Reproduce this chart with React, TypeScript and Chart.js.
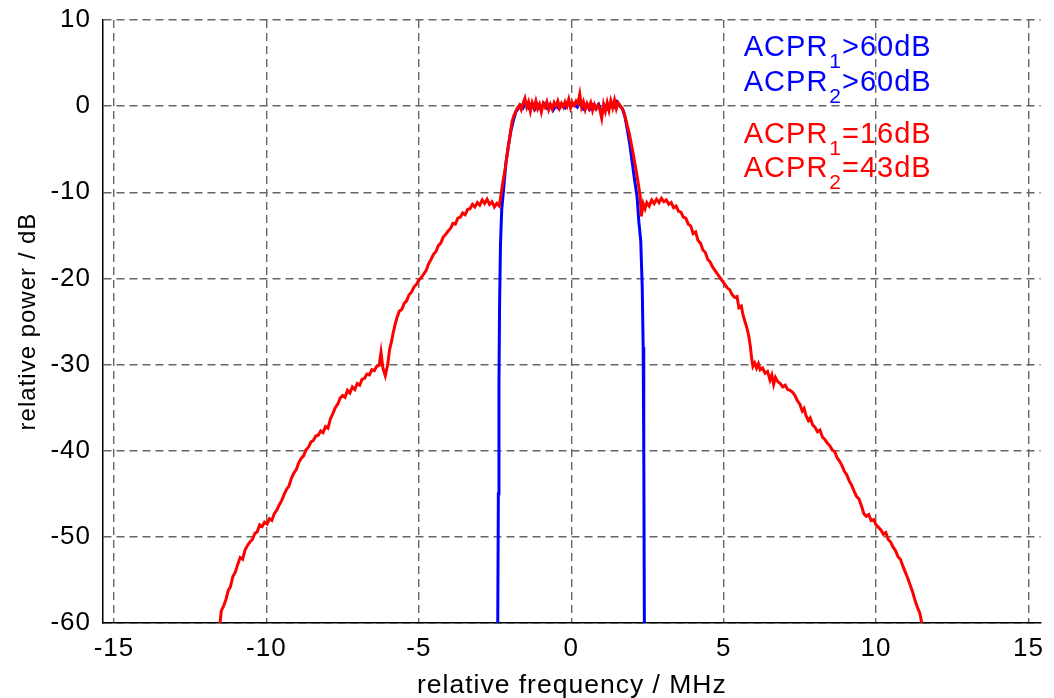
import { useEffect, useRef } from "react";
import { Chart, registerables } from "chart.js";

Chart.register(...registerables);

// ---------------- data ----------------
const redFreq = [
  -11.52, -11.48, -11.4, -11.32, -11.25, -11.18, -11.1, -11.02, -10.94, -10.86,
  -10.78, -10.7, -10.62, -10.54, -10.46, -10.38, -10.3, -10.22, -10.14, -10.06,
  -9.98, -9.9, -9.82, -9.74, -9.66, -9.58, -9.5, -9.42, -9.34, -9.26,
  -9.18, -9.1, -9.02, -8.94, -8.86, -8.78, -8.7, -8.62, -8.54, -8.46,
  -8.38, -8.3, -8.22, -8.14, -8.06, -7.98, -7.9, -7.82, -7.74, -7.66,
  -7.58, -7.5, -7.42, -7.34, -7.26, -7.18, -7.1, -7.02, -6.94, -6.86,
  -6.78, -6.7, -6.62, -6.54, -6.46, -6.38, -6.3, -6.24, -6.18, -6.1,
  -6.02, -5.96, -5.9, -5.84, -5.78, -5.72, -5.64, -5.56, -5.48, -5.4,
  -5.32, -5.24, -5.16, -5.08, -5.0, -4.92, -4.84, -4.76, -4.68, -4.6,
  -4.52, -4.44, -4.36, -4.28, -4.2, -4.12, -4.04, -3.96, -3.88, -3.8,
  -3.72, -3.64, -3.56, -3.48, -3.4, -3.32, -3.24, -3.16, -3.08, -3.0,
  -2.92, -2.84, -2.76, -2.68, -2.6, -2.52, -2.44, -2.36, -2.3, -2.24,
  -2.18, -2.12, -2.06, -2.0, -1.94, -1.88, -1.82, -1.76, -1.7, -1.64,
  -1.58, -1.52, -1.46, -1.4, -1.34, -1.28, -1.22, -1.16, -1.1, -1.04,
  -0.98, -0.92, -0.86, -0.8, -0.74, -0.68, -0.62, -0.56, -0.5, -0.44,
  -0.38, -0.32, -0.26, -0.2, -0.14, -0.08, -0.02, 0.04, 0.1, 0.16,
  0.22, 0.28, 0.34, 0.4, 0.46, 0.52, 0.58, 0.64, 0.7, 0.76,
  0.82, 0.88, 0.94, 1.0, 1.06, 1.12, 1.18, 1.24, 1.3, 1.36,
  1.42, 1.48, 1.54, 1.6, 1.66, 1.72, 1.78, 1.84, 1.9, 1.96,
  2.02, 2.08, 2.14, 2.2, 2.26, 2.3, 2.36, 2.42, 2.48, 2.56,
  2.64, 2.72, 2.8, 2.88, 2.96, 3.04, 3.12, 3.2, 3.28, 3.36,
  3.44, 3.52, 3.6, 3.68, 3.76, 3.84, 3.92, 4.0, 4.08, 4.16,
  4.24, 4.32, 4.4, 4.48, 4.56, 4.64, 4.72, 4.8, 4.88, 4.96,
  5.04, 5.12, 5.2, 5.28, 5.36, 5.44, 5.5, 5.58, 5.64, 5.7,
  5.76, 5.82, 5.88, 5.92, 5.96, 6.02, 6.08, 6.14, 6.2, 6.28,
  6.36, 6.44, 6.52, 6.58, 6.64, 6.7, 6.78, 6.86, 6.94, 7.02,
  7.1, 7.18, 7.26, 7.34, 7.42, 7.5, 7.58, 7.64, 7.7, 7.78,
  7.84, 7.92, 8.0, 8.08, 8.16, 8.24, 8.32, 8.4, 8.48, 8.56,
  8.64, 8.72, 8.8, 8.88, 8.96, 9.04, 9.12, 9.2, 9.28, 9.36,
  9.44, 9.52, 9.6, 9.68, 9.76, 9.84, 9.92, 10.0, 10.08, 10.16,
  10.24, 10.32, 10.4, 10.48, 10.56, 10.64, 10.72, 10.8, 10.88, 10.96,
  11.04, 11.12, 11.2, 11.28, 11.36, 11.44, 11.5,
];

const redPower = [
  -60, -58.6, -58.0, -57.2, -56.2, -55.8, -54.6, -54.1, -53.2, -52.4,
  -52.6, -51.5, -51.0, -50.6, -50.3, -49.6, -49.4, -48.6, -48.8, -48.3,
  -48.5, -47.9, -48.1, -47.3, -46.9, -46.3, -45.8, -45.1, -44.5, -44.1,
  -43.2, -42.6, -42.2, -41.4, -40.9, -40.6, -39.9, -39.6, -39.0, -38.8,
  -38.3, -38.2, -37.7, -37.9, -37.2, -37.4, -36.3, -35.7, -35.0, -34.6,
  -33.9, -33.6, -33.8, -33.0, -33.3, -32.6, -32.9, -32.2, -32.4, -31.7,
  -31.6, -31.1, -31.2, -30.6, -30.7, -30.2, -30.1, -28.6, -30.4, -31.3,
  -30.0, -28.3, -27.4, -26.3, -25.4, -24.6, -23.8, -23.6, -22.9, -22.6,
  -21.9, -21.6, -21.0, -20.7, -20.2, -19.9, -19.5, -19.1, -18.3, -17.8,
  -17.2, -16.9, -16.2, -15.9, -15.2, -14.9, -14.5, -14.2, -13.6, -13.7,
  -13.0, -12.9, -12.4, -12.6, -12.0, -11.9, -11.4, -11.7, -11.2, -11.5,
  -10.9, -11.3, -10.8, -11.4, -11.1, -11.7, -11.3, -11.6, -10.2, -8.8,
  -7.6, -6.1, -4.6, -3.2, -1.8, -1.1, -0.6, -0.2, 0.1, -0.4,
  0.3, 0.9, -0.1, 0.5, -0.6, 0.4, -0.2, 0.6, -0.3, 0.2,
  -0.7, 0.3, -0.1, 0.5, -0.4, 0.2, -0.3, 0.4, 0.0, 0.6,
  -0.2, 0.3, -0.1, 0.5, 0.0, 0.8, -0.2, 0.4, 0.1, 0.6,
  0.3, 1.4, -0.1, 0.5, -0.4, 0.3, -0.2, 0.4, -0.5, 0.2,
  -0.3, 0.1, -0.4, -1.4, 0.2, -0.6, 0.4, -0.5, 0.6, -0.2,
  0.7, -0.3, 0.4, 0.1, -0.2, -0.6, -1.4, -2.3, -3.1, -4.2,
  -5.3, -6.5, -7.7, -9.0, -10.4, -12.8, -11.3, -11.9, -11.2, -11.6,
  -10.9, -11.3, -10.8, -11.2, -10.7, -11.1, -10.9, -11.4, -11.2, -11.8,
  -11.6, -12.2, -12.3, -12.9, -13.0, -13.7, -13.9, -14.8, -14.6, -15.6,
  -15.9, -16.7, -17.0, -17.8, -18.1, -18.7, -19.1, -19.5, -19.9, -20.3,
  -20.7, -21.1, -21.3, -21.9, -22.2, -22.1, -23.4, -23.2, -24.3, -25.0,
  -25.7, -26.6, -28.0, -29.3, -30.2, -29.8, -30.4, -29.9, -30.6, -30.4,
  -31.0, -30.8, -31.8, -31.2, -32.3, -31.5, -32.0, -32.2, -32.6, -32.4,
  -32.9, -33.0, -33.2, -33.6, -34.2, -34.6, -35.4, -35.1, -35.9, -36.5,
  -36.2, -37.0, -37.3, -37.8, -37.6, -38.4, -38.7, -39.1, -39.4, -39.9,
  -40.1, -40.8, -41.2, -41.7, -42.4, -42.8, -43.5, -44.0, -44.7, -45.3,
  -45.6, -46.4, -47.3, -47.6, -47.4, -48.1, -48.0, -48.6, -48.9, -49.2,
  -49.7, -49.5, -50.3, -50.6, -51.2, -51.6, -52.3, -52.6, -53.4, -54.1,
  -54.8, -55.6, -56.4, -57.4, -58.2, -58.9, -60,
];

const blueFreq = [
  -2.41, -2.39, -2.37, -2.35, -2.32, -2.28, -2.22, -2.14, -2.06, -1.98,
  -1.9, -1.82, -1.74, -1.66, -1.58, -1.5, -1.4, -1.3, -1.2, -1.1,
  -1.0, -0.9, -0.8, -0.7, -0.6, -0.5, -0.4, -0.3, -0.2, -0.1,
  0.0, 0.1, 0.2, 0.3, 0.4, 0.5, 0.6, 0.7, 0.8, 0.9,
  1.0, 1.1, 1.2, 1.3, 1.4, 1.5, 1.6, 1.68, 1.76, 1.84,
  1.92, 2.0, 2.08, 2.16, 2.22, 2.28, 2.33, 2.36, 2.38, 2.4,
];

const bluePower = [
  -60, -45, -32, -23, -16, -12, -9.7, -6.5, -4.6, -2.9,
  -1.7, -0.7, -0.3, 0.1, -0.2, 0.4, -0.2, 0.3, -0.4, 0.2,
  -0.3, 0.3, -0.2, 0.2, -0.5, 0.1, -0.3, 0.2, -0.2, 0.3,
  0.0, 0.2, -0.1, 0.6, -0.3, 0.2, -0.4, 0.1, -0.3, 0.2,
  -0.8, 0.1, -0.3, 0.4, -0.1, 0.5, 0.0, -0.3, -1.2, -2.7,
  -4.4, -6.5, -8.6, -10.5, -13.5, -15.6, -21, -28, -40, -60,
];

const xTickValues = [-15, -10, -5, 0, 5, 10, 15];
const yTickValues = [-60, -50, -40, -30, -20, -10, 0, 10];

const noteMain = ["ACPR", "ACPR", "ACPR", "ACPR"];
const noteSub = ["1", "2", "1", "2"];
const noteRest = [">60dB", ">60dB", "=16dB", "=43dB"];
const noteColor = ["#0000ff", "#0000ff", "#ff0000", "#ff0000"];

const xAxisTitle = "relative frequency / MHz";
const yAxisTitle = "relative power / dB";

// ---------------- styling ----------------
const FONT = '"Liberation Sans", Arial, Helvetica, sans-serif';
const NOTE_X = 5.66;
const NOTE_BASELINE_Y = [5.8, 1.75, -4.3, -8.25];

const spacingPlugin = {
  id: "letterSpacing",
  beforeUpdate(chart: any) {
    chart.ctx.letterSpacing = "1px";
  },
  beforeDraw(chart: any) {
    chart.ctx.letterSpacing = "1px";
  },
};

const notesPlugin = {
  id: "acprNotes",
  afterDraw(chart: any) {
    const { ctx, scales } = chart;
    const xs = scales.x;
    const ys = scales.y;
    ctx.save();
    ctx.textBaseline = "alphabetic";
    ctx.textAlign = "left";
    for (let i = 0; i < noteMain.length; i++) {
      let px = xs.getPixelForValue(NOTE_X);
      const py = ys.getPixelForValue(NOTE_BASELINE_Y[i]);
      ctx.fillStyle = noteColor[i];
      ctx.font = `29px ${FONT}`;
      ctx.fillText(noteMain[i], px, py);
      px += ctx.measureText(noteMain[i]).width + 1;
      ctx.font = `21px ${FONT}`;
      ctx.fillText(noteSub[i], px, py + 12);
      px += ctx.measureText(noteSub[i]).width;
      ctx.font = `29px ${FONT}`;
      ctx.fillText(noteRest[i], px, py);
    }
    ctx.restore();
  },
};

export default function App() {
  const canvasRef = useRef<HTMLCanvasElement | null>(null);

  useEffect(() => {
    const canvas = canvasRef.current;
    if (!canvas) return;

    const redData = redFreq.map((f, i) => ({ x: f, y: redPower[i] }));
    const blueData = blueFreq.map((f, i) => ({ x: f, y: bluePower[i] }));

    const gridCommon = {
      color: "#666666",
      lineWidth: 1.4,
      drawTicks: false,
    };

    const chart = new Chart(canvas, {
      type: "line",
      data: {
        datasets: [
          {
            label: "with DPD off",
            data: redData,
            borderColor: "#ff0000",
            borderWidth: 3,
            pointRadius: 0,
            tension: 0,
            fill: false,
          },
          {
            label: "filtered",
            data: blueData,
            borderColor: "#0000ff",
            borderWidth: 3,
            pointRadius: 0,
            tension: 0,
            fill: false,
          },
        ],
      },
      options: {
        animation: false,
        responsive: false,
        maintainAspectRatio: false,
        layout: { padding: { top: 20, right: 6, left: 0, bottom: 0 } },
        plugins: {
          legend: { display: false },
          tooltip: { enabled: false },
        },
        scales: {
          x: {
            type: "linear",
            min: -15.36,
            max: 15.4,
            afterBuildTicks: (scale: any) => {
              scale.ticks = xTickValues.map((v) => ({ value: v }));
            },
            afterFit: (scale: any) => {
              scale.height = 75;
            },
            grid: gridCommon,
            border: { display: true, color: "#000000", width: 1.5, dash: [8, 5] },
            ticks: {
              color: "#000000",
              font: { family: FONT, size: 26 },
              padding: 10,
              maxRotation: 0,
              autoSkip: false,
              callback: (v: any) => String(v),
            },
            title: {
              display: true,
              text: xAxisTitle,
              color: "#000000",
              font: { family: FONT, size: 26.5, lineHeight: 1 },
              padding: { top: 0, bottom: -1 },
            },
          },
          y: {
            type: "linear",
            min: -60,
            max: 10,
            afterBuildTicks: (scale: any) => {
              scale.ticks = yTickValues.map((v) => ({ value: v }));
            },
            afterFit: (scale: any) => {
              scale.width = 103;
              scale.paddingTop = 0;
              scale.paddingBottom = 0;
            },
            grid: gridCommon,
            border: { display: true, color: "#000000", width: 1.5, dash: [8, 5] },
            ticks: {
              color: "#000000",
              font: { family: FONT, size: 26 },
              padding: 12,
              autoSkip: false,
              callback: (v: any) => String(v),
            },
            title: {
              display: true,
              text: yAxisTitle,
              color: "#000000",
              font: { family: FONT, size: 24, lineHeight: 1 },
              padding: { top: 16, bottom: 0 },
            },
          },
        },
      },
      plugins: [spacingPlugin, notesPlugin],
    } as any);

    return () => chart.destroy();
  }, []);

  return (
    <div style={{ position: "fixed", left: 0, top: 0, width: 1054, height: 698, background: "#ffffff" }}>
      <canvas ref={canvasRef} width={1054} height={698} style={{ width: 1054, height: 698, display: "block" }} />
    </div>
  );
}
